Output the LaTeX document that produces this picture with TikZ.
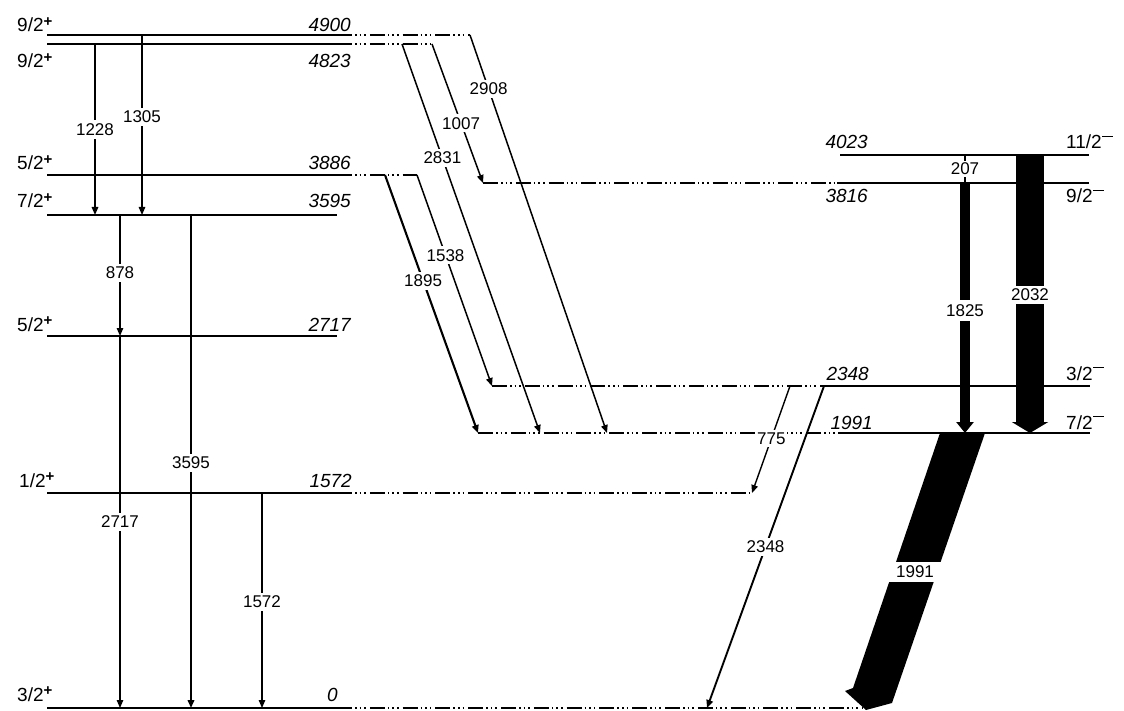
\documentclass[tikz,border=0pt]{standalone}
\usepackage{fontspec}
\setmainfont{Liberation Sans}
\usetikzlibrary{arrows.meta}
\newcommand\jpos[1]{#1\raisebox{0.3em}{\fontsize{15}{15}\selectfont\bfseries +}}
\newcommand\jneg[1]{#1\kern0.5pt\rule[0.62em]{0.55em}{1.4pt}}
\begin{document}
\begin{tikzpicture}[x=1pt,y=-1pt,
  lev/.style={line width=1.7pt},
  dlev/.style={line width=1.7pt, dash pattern=on 15pt off 3pt on 1.6pt off 3pt on 1.6pt off 3pt on 1.6pt off 4pt},
  gam/.style={line width=1.3pt, -{Triangle[length=8pt,width=6.5pt]}},
  glab/.style={fill=white, inner xsep=1pt, inner ysep=3pt, font=\fontsize{17}{17}\selectfont},
  elab/.style={font=\fontsize{19}{20}\selectfont\itshape, inner sep=0pt},
  slab/.style={font=\fontsize{19}{20}\selectfont, inner sep=0pt},
]
\useasboundingbox (0,0) rectangle (1124,711);

% ---------- left levels ----------
\coordinate (a4900) at (47,35);  \coordinate (b4900) at (337,35);  \coordinate (c4900) at (470,35);
\coordinate (a4823) at (47,44);  \coordinate (b4823) at (337,44);  \coordinate (c4823) at (432,44); \coordinate (d4823) at (402,44);
\coordinate (a3886) at (47,175); \coordinate (b3886) at (337,175); \coordinate (c3886) at (417,175); \coordinate (d3886) at (385,175);
\coordinate (a3595) at (47,215); \coordinate (b3595) at (337,215);
\coordinate (a2717) at (47,336); \coordinate (b2717) at (337,336);
\coordinate (a1572) at (47,493); \coordinate (b1572) at (337,493); \coordinate (c1572) at (752,493);
\coordinate (a0) at (47,708);    \coordinate (b0) at (337,708);    \coordinate (c0) at (862,708);

\draw[lev] (a4900) -- (b4900); \draw[dlev] (b4900) -- (c4900);
\draw[lev] (a4823) -- (b4823); \draw[dlev] (b4823) -- (c4823);
\draw[lev] (a3886) -- (b3886); \draw[dlev] (b3886) -- (c3886);
\draw[lev] (a3595) -- (b3595);
\draw[lev] (a2717) -- (b2717);
\draw[lev] (a1572) -- (b1572); \draw[dlev] (b1572) -- (c1572);
\draw[lev] (a0) -- (b0); \draw[dlev] (b0) -- (c0);

% ---------- right levels ----------
\coordinate (a4023) at (840,155); \coordinate (b4023) at (1089,155);
\coordinate (c3816) at (483,183); \coordinate (a3816) at (837,183); \coordinate (b3816) at (1089,183);
\coordinate (c2348) at (492,386); \coordinate (a2348) at (832,386); \coordinate (b2348) at (1090,386);
\coordinate (c1991) at (478,433); \coordinate (a1991) at (838,433); \coordinate (b1991) at (1090,433);

\draw[lev] (a4023) -- (b4023);
\draw[dlev] (c3816) -- (a3816); \draw[lev] (a3816) -- (b3816);
\draw[dlev] (c2348) -- (a2348); \draw[lev] (a2348) -- (b2348);
\draw[dlev] (c1991) -- (a1991); \draw[lev] (a1991) -- (b1991);

% ---------- level labels (left) ----------
\node[slab, anchor=base west] (s4900) at (17,32)  {\jpos{9/2}};
\node[slab, anchor=base west] (s4823) at (17,68)  {\jpos{9/2}};
\node[slab, anchor=base west] (s3886) at (17,170) {\jpos{5/2}};
\node[slab, anchor=base west] (s3595) at (17,208) {\jpos{7/2}};
\node[slab, anchor=base west] (s2717) at (17,331) {\jpos{5/2}};
\node[slab, anchor=base west] (s1572) at (19,487) {\jpos{1/2}};
\node[slab, anchor=base west] (s0)    at (17,701) {\jpos{3/2}};

\node[elab, anchor=base east] (e4900) at (351,32)  {4900};
\node[elab, anchor=base east] (e4823) at (351,68)  {4823};
\node[elab, anchor=base east] (e3886) at (351,170) {3886};
\node[elab, anchor=base east] (e3595) at (351,208) {3595};
\node[elab, anchor=base east] (e2717) at (351,331) {2717};
\node[elab, anchor=base east] (e1572) at (352,487) {1572};
\node[elab, anchor=base east] (e0)    at (338,701) {0};

% ---------- level labels (right) ----------
\node[elab, anchor=base east] (e4023) at (868,149) {4023};
\node[elab, anchor=base east] (e3816) at (868,203) {3816};
\node[elab, anchor=base east] (e2348) at (869,380) {2348};
\node[elab, anchor=base east] (e1991) at (873,429) {1991};
\node[slab, anchor=base west] (s4023) at (1066,149) {\jneg{11/2}};
\node[slab, anchor=base west] (s3816) at (1066,203) {\jneg{9/2}};
\node[slab, anchor=base west] (s2348) at (1066,380) {\jneg{3/2}};
\node[slab, anchor=base west] (s1991) at (1066,429) {\jneg{7/2}};

% ---------- vertical transitions (left) ----------
\coordinate (t1228a) at (95,44);   \coordinate (t1228b) at (95,215);
\coordinate (t1305a) at (142,35);  \coordinate (t1305b) at (142,215);
\coordinate (t878a)  at (120,215); \coordinate (t878b)  at (120,336);
\coordinate (t3595a) at (191,215); \coordinate (t3595b) at (191,708);
\coordinate (t2717a) at (120,336); \coordinate (t2717b) at (120,708);
\coordinate (t1572a) at (262,493); \coordinate (t1572b) at (262,708);

\draw[gam, line width=1.6pt] (t1228a) -- node[glab,pos=0.5]{1228} (t1228b);
\draw[gam] (t1305a) -- node[glab,pos=0.456]{1305} (t1305b);
\draw[gam] (t878a) -- node[glab,pos=0.48]{878} (t878b);
\draw[gam, line width=2.6pt] (t3595a) -- node[glab,pos=0.503]{3595} (t3595b);
\draw[gam] (t2717a) -- node[glab,pos=0.5]{2717} (t2717b);
\draw[gam] (t1572a) -- node[glab,pos=0.507]{1572} (t1572b);

% ---------- slanted transitions ----------
\draw[gam, line width=1.5pt] (c4900) -- node[glab,pos=0.136]{2908} (607,433) coordinate (t2908b);
\draw[gam, line width=1.5pt] (c4823) -- node[glab,pos=0.57]{1007} (c3816);
\draw[gam, line width=1.5pt] (d4823) -- node[glab,pos=0.293]{2831} (540,433) coordinate (t2831b);
\draw[gam, line width=1.5pt] (c3886) -- node[glab,pos=0.38]{1538} (c2348);
\draw[gam, line width=2.1pt] (d3886) -- node[glab,pos=0.41]{1895} (c1991);
\coordinate (t775a) at (790,386);
\draw[gam, line width=1.4pt] (t775a) -- node[glab,pos=0.49]{775} (c1572);
\coordinate (t2348a) at (824,386); \coordinate (t2348b) at (707,708);
\draw[gam, line width=1.9pt] (t2348a) -- node[glab,pos=0.5]{2348} (t2348b);

% ---------- strong transitions (right) ----------
\coordinate (t207a) at (965,155); \coordinate (t207b) at (965,183);
\draw[line width=1.2pt] (t207a) -- node[glab,inner ysep=1.5pt,pos=0.5]{207} (t207b);

\coordinate (t1825a) at (965,183); \coordinate (t1825b) at (965,433);
\draw[line width=10pt, -{Triangle[length=11pt,width=17pt]}] (t1825a) -- node[glab,inner ysep=4pt,pos=0.51]{1825} (t1825b);

\coordinate (t2032a) at (1030,155); \coordinate (t2032b) at (1030,433);
\draw[line width=28pt, -{Triangle[length=11pt,width=36pt]}] (t2032a) -- node[glab,pos=0.504]{2032} (t2032b);

% 1991 band
\coordinate (p1) at (940,433); \coordinate (p2) at (985,433); \coordinate (p3) at (892,703);
\coordinate (p4) at (866,710); \coordinate (p5) at (845,691); \coordinate (p6) at (853,688);
\fill[black] (p1) -- (p2) -- (p3) -- (p4) -- (p5) -- (p6) -- cycle;
\node[glab, minimum width=52pt, minimum height=20pt] (l1991) at (915,572) {1991};

\end{tikzpicture}
\end{document}
